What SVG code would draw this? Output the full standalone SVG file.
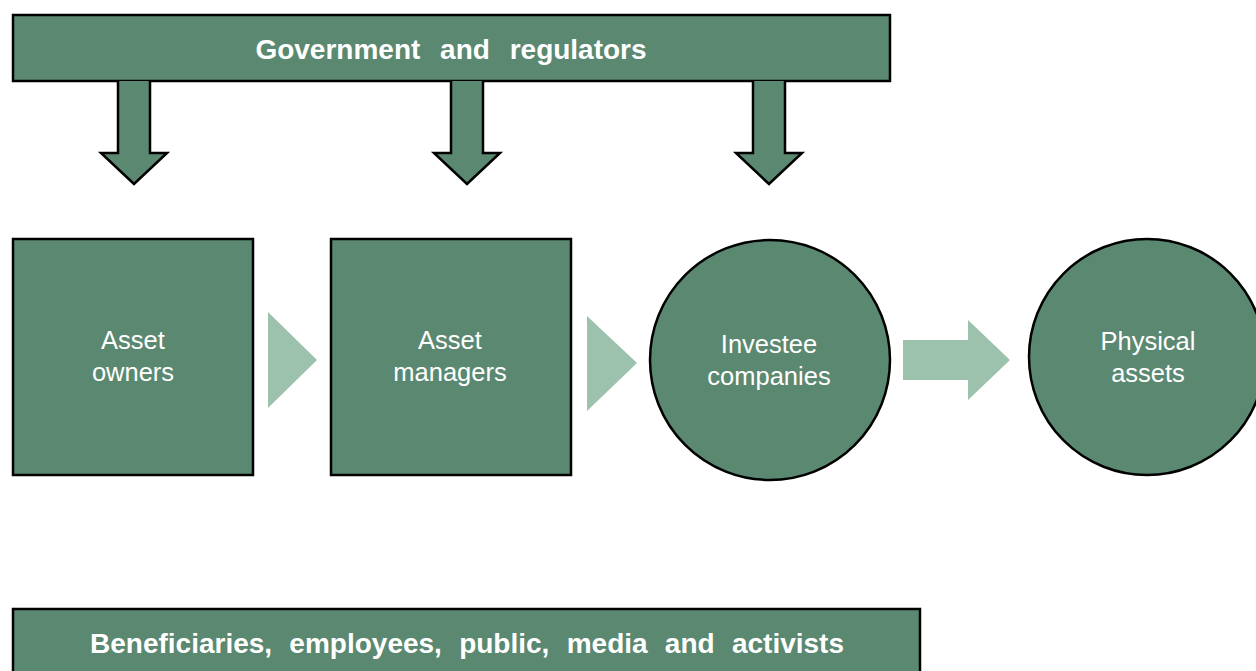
<svg xmlns="http://www.w3.org/2000/svg" width="1256" height="671" viewBox="0 0 1256 671">
  <style>
    .node { fill: #5B8870; stroke: #000; stroke-width: 2.5; }
    .flow { fill: #9CC2AE; stroke: none; }
    .down { fill: #5B8870; stroke: #000; stroke-width: 2.5; stroke-linejoin: miter; }
    .lbl { font-family: "Liberation Sans", Arial, sans-serif; font-size: 25.5px; fill: #fff; text-anchor: middle; }
    .bar { font-family: "Liberation Sans", Arial, sans-serif; font-size: 28px; font-weight: bold; fill: #fff; text-anchor: middle; }
  </style>

  <g id="government">
    <rect class="node" x="13" y="15" width="877" height="66"/>
    <text class="bar" x="451" y="59" word-spacing="12">Government and regulators</text>
  </g>

  <g id="public">
    <rect class="node" x="13" y="609" width="907" height="80"/>
    <text class="bar" x="467" y="653" word-spacing="9.5">Beneficiaries, employees, public, media and activists</text>
  </g>

  <g id="asset-owners">
    <rect class="node" x="13" y="239" width="240" height="236"/>
    <text class="lbl" x="133" y="349">Asset</text>
    <text class="lbl" x="133" y="381">owners</text>
  </g>

  <g id="asset-managers">
    <rect class="node" x="331" y="239" width="240" height="236"/>
    <text class="lbl" x="450" y="349">Asset</text>
    <text class="lbl" x="450" y="381">managers</text>
  </g>

  <g id="investee-companies">
    <circle class="node" cx="770" cy="360" r="120"/>
    <text class="lbl" x="769" y="353">Investee</text>
    <text class="lbl" x="769" y="385">companies</text>
  </g>

  <g id="physical-assets">
    <circle class="node" cx="1147" cy="357" r="118"/>
    <text class="lbl" x="1148" y="350">Physical</text>
    <text class="lbl" x="1148" y="382">assets</text>
  </g>

  <g id="connectors">
    <!-- downward block arrows from the regulators bar -->
    <path class="down" d="M118,81 V153 H101 L134,184 L167,153 H150 V81"/>
    <path class="down" d="M451,81 V153 H434 L467,184 L500,153 H483 V81"/>
    <path class="down" d="M753,81 V153 H736 L769,184 L802,153 H785 V81"/>
    <!-- chain of flow markers -->
    <polygon class="flow" points="268,312 317,360 268,408"/>
    <polygon class="flow" points="587,316 637,363 587,411"/>
    <polygon class="flow" points="903,340 968,340 968,320 1010,360 968,400 968,380 903,380"/>
  </g>
</svg>
